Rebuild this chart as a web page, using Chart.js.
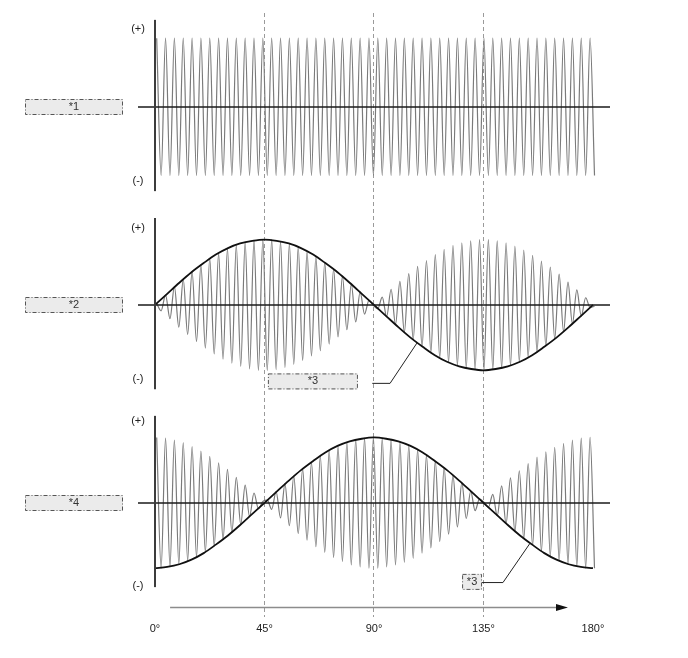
<!DOCTYPE html>
<html>
<head>
<meta charset="utf-8">
<script src="https://cdn.jsdelivr.net/npm/chart.js@4.4.1/dist/chart.umd.min.js"></script>
<style>
  body { margin: 0; background: #fff; }
  canvas { display: block; }
</style>
</head>
<body>
<canvas id="wave" width="688" height="658"></canvas>
<script>
// x axis (degrees)
const tickDegrees = [0, 45, 90, 135, 180];
const dashedDegrees = [45, 90, 135];

// carrier: one value per half cycle, starting at carrierStart, spaced carrierStep degrees
const carrierStart = 0.7;
const carrierStep = 1.8174;

const carrier1 = [
  1.05, -1.05, 1.05, -1.05, 1.05, -1.05, 1.05, -1.05, 1.05, -1.05,
  1.05, -1.05, 1.05, -1.05, 1.05, -1.05, 1.05, -1.05, 1.05, -1.05,
  1.05, -1.05, 1.05, -1.05, 1.05, -1.05, 1.05, -1.05, 1.05, -1.05,
  1.05, -1.05, 1.05, -1.05, 1.05, -1.05, 1.05, -1.05, 1.05, -1.05,
  1.05, -1.05, 1.05, -1.05, 1.05, -1.05, 1.05, -1.05, 1.05, -1.05,
  1.05, -1.05, 1.05, -1.05, 1.05, -1.05, 1.05, -1.05, 1.05, -1.05,
  1.05, -1.05, 1.05, -1.05, 1.05, -1.05, 1.05, -1.05, 1.05, -1.05,
  1.05, -1.05, 1.05, -1.05, 1.05, -1.05, 1.05, -1.05, 1.05, -1.05,
  1.05, -1.05, 1.05, -1.05, 1.05, -1.05, 1.05, -1.05, 1.05, -1.05,
  1.05, -1.05, 1.05, -1.05, 1.05, -1.05, 1.05, -1.05, 1.05, -1.05
];

const carrier2 = [
  0.02, -0.09, 0.15, -0.21, 0.28, -0.34, 0.39, -0.45, 0.51, -0.56,
  0.61, -0.66, 0.71, -0.75, 0.79, -0.83, 0.86, -0.89, 0.92, -0.94,
  0.96, -0.98, 0.99, -1.00, 1.00, -1.00, 1.00, -0.99, 0.97, -0.96,
  0.94, -0.91, 0.89, -0.85, 0.82, -0.78, 0.74, -0.70, 0.65, -0.60,
  0.55, -0.49, 0.44, -0.38, 0.32, -0.26, 0.20, -0.14, 0.07, -0.01,
  -0.06, 0.12, -0.18, 0.24, -0.30, 0.36, -0.42, 0.48, -0.53, 0.59,
  -0.64, 0.68, -0.73, 0.77, -0.81, 0.85, -0.88, 0.91, -0.93, 0.95,
  -0.97, 0.98, -0.99, 1.00, -1.00, 1.00, -0.99, 0.98, -0.97, 0.95,
  -0.93, 0.90, -0.87, 0.84, -0.80, 0.76, -0.72, 0.67, -0.63, 0.58,
  -0.52, 0.47, -0.41, 0.35, -0.29, 0.23, -0.17, 0.11, -0.04, -0.02
];

const carrier3 = [
  1.00, -1.00, 0.99, -0.98, 0.96, -0.94, 0.92, -0.89, 0.86, -0.83,
  0.79, -0.75, 0.71, -0.66, 0.61, -0.56, 0.51, -0.45, 0.39, -0.33,
  0.27, -0.21, 0.15, -0.09, 0.02, 0.04, -0.10, 0.17, -0.23, 0.29,
  -0.35, 0.41, -0.47, 0.52, -0.57, 0.62, -0.67, 0.72, -0.76, 0.80,
  -0.84, 0.87, -0.90, 0.93, -0.95, 0.97, -0.98, 0.99, -1.00, 1.00,
  -1.00, 0.99, -0.98, 0.97, -0.95, 0.93, -0.91, 0.88, -0.85, 0.81,
  -0.77, 0.73, -0.69, 0.64, -0.59, 0.54, -0.48, 0.42, -0.37, 0.31,
  -0.24, 0.18, -0.12, 0.06, 0.01, -0.07, 0.13, -0.20, 0.26, -0.32,
  0.38, -0.44, 0.49, -0.55, 0.60, -0.65, 0.70, -0.74, 0.78, -0.82,
  0.85, -0.89, 0.91, -0.94, 0.96, -0.97, 0.99, -1.00, 1.00, -1.00
];

// envelopes (thick black curves)
const envAngles = [0, 5, 10, 15, 20, 25, 30, 35, 40, 45, 50, 55, 60, 65, 70, 75, 80, 85, 90,
  95, 100, 105, 110, 115, 120, 125, 130, 135, 140, 145, 150, 155, 160, 165, 170, 175, 180];
const envelope2 = [0, 0.17, 0.34, 0.50, 0.64, 0.77, 0.87, 0.94, 0.98, 1.00, 0.98, 0.94, 0.87, 0.77, 0.64, 0.50, 0.34, 0.17, 0,
  -0.17, -0.34, -0.50, -0.64, -0.77, -0.87, -0.94, -0.98, -1.00, -0.98, -0.94, -0.87, -0.77, -0.64, -0.50, -0.34, -0.17, 0];
const envelope3 = [-1.00, -0.98, -0.94, -0.87, -0.77, -0.64, -0.50, -0.34, -0.17, 0, 0.17, 0.34, 0.50, 0.64, 0.77, 0.87, 0.94, 0.98, 1.00,
  0.98, 0.94, 0.87, 0.77, 0.64, 0.50, 0.34, 0.17, 0, -0.17, -0.34, -0.50, -0.64, -0.77, -0.87, -0.94, -0.98, -1.00];

const panelTags = ["*1", "*2", "*4"];
const calloutTag = "*3";

const FONT = '"Liberation Sans", Arial, sans-serif';

function carrierPoints(vals) {
  return vals.map((v, i) => ({ x: carrierStart + i * carrierStep, y: v }));
}
function envPoints(vals) {
  return vals.map((v, i) => ({ x: envAngles[i], y: v }));
}

// panel decorations, in axis units
const panels = [
  { axis: "y1", plus: 1.19, minus: -1.13 },
  { axis: "y2", plus: 1.18, minus: -1.14 },
  { axis: "y3", plus: 1.25, minus: -1.27 }
];

function dashBox(ctx, x, yc, w, text) {
  const h = 16;
  ctx.fillStyle = "#ebebeb";
  ctx.fillRect(x, yc - h / 2, w, h);
  ctx.setLineDash([4, 2, 1, 2]);
  ctx.strokeStyle = "#555";
  ctx.lineWidth = 1;
  ctx.strokeRect(x + 0.5, yc - h / 2 + 0.5, w - 1, h - 1);
  ctx.setLineDash([]);
  ctx.fillStyle = "#333";
  ctx.font = "11px " + FONT;
  ctx.textAlign = "center";
  ctx.textBaseline = "middle";
  ctx.fillText(text, x + w / 2, yc);
}

function polyline(ctx, pts) {
  ctx.beginPath();
  pts.forEach((p, i) => (i ? ctx.lineTo(p[0], p[1]) : ctx.moveTo(p[0], p[1])));
  ctx.stroke();
}

const decor = {
  id: "decor",
  afterDatasetsDraw(chart) {
    const { ctx, chartArea, scales } = chart;
    const xs = scales.x;
    const ax = xs.getPixelForValue(0);
    ctx.save();
    panels.forEach((p, i) => {
      const ys = scales[p.axis];
      const y0 = Math.round(ys.getPixelForValue(0));
      ctx.strokeStyle = "#1a1a1a";
      ctx.lineWidth = 1.6;
      polyline(ctx, [[chartArea.left - 2, y0], [chartArea.right, y0]]);
      ctx.strokeStyle = "#3c3c3c";
      ctx.lineWidth = 2;
      polyline(ctx, [[ax, ys.getPixelForValue(1.33)], [ax, ys.getPixelForValue(-1.29)]]);
      ctx.fillStyle = "#222";
      ctx.font = "11px " + FONT;
      ctx.textAlign = "center";
      ctx.textBaseline = "middle";
      ctx.fillText("(+)", 138, ys.getPixelForValue(p.plus));
      ctx.fillText("(-)", 138, ys.getPixelForValue(p.minus));
      dashBox(ctx, 25, y0, 98, panelTags[i]);
    });

    // callouts *3
    const y2 = scales.y2, y3 = scales.y3;
    const X = (d) => xs.getPixelForValue(d);
    dashBox(ctx, X(46.4), y2.getPixelForValue(-1.17), X(83.4) - X(46.4), calloutTag);
    ctx.strokeStyle = "#222";
    ctx.lineWidth = 1;
    polyline(ctx, [[X(89.3), y2.getPixelForValue(-1.2)], [X(96.6), y2.getPixelForValue(-1.2)], [X(107.7), y2.getPixelForValue(-0.58)]]);
    dashBox(ctx, X(126.2), y3.getPixelForValue(-1.21), X(134.4) - X(126.2), calloutTag);
    ctx.strokeStyle = "#222";
    ctx.lineWidth = 1;
    polyline(ctx, [[X(134.4), y3.getPixelForValue(-1.22)], [X(143.0), y3.getPixelForValue(-1.22)], [X(154.1), y3.getPixelForValue(-0.62)]]);

    // direction arrow
    const ay = Math.round(y3.getPixelForValue(-1.6)) + 0.5;
    ctx.strokeStyle = "#8c8c8c";
    ctx.lineWidth = 1.5;
    polyline(ctx, [[X(6.2), ay], [X(165), ay]]);
    ctx.fillStyle = "#111";
    ctx.beginPath();
    ctx.moveTo(X(164.8), ay - 3.5);
    ctx.lineTo(X(169.7), ay);
    ctx.lineTo(X(164.8), ay + 3.5);
    ctx.closePath();
    ctx.fill();
    ctx.restore();
  }
};

const lineStyle = { pointRadius: 0, fill: false, cubicInterpolationMode: "monotone" };

new Chart(document.getElementById("wave"), {
  type: "line",
  data: {
    datasets: [
      { ...lineStyle, data: envPoints(envelope2), yAxisID: "y2", borderColor: "#111", borderWidth: 1.8 },
      { ...lineStyle, data: envPoints(envelope3), yAxisID: "y3", borderColor: "#111", borderWidth: 1.8 },
      { ...lineStyle, data: carrierPoints(carrier1), yAxisID: "y1", borderColor: "#7a7a7a", borderWidth: 1.2 },
      { ...lineStyle, data: carrierPoints(carrier2), yAxisID: "y2", borderColor: "#7a7a7a", borderWidth: 1.2 },
      { ...lineStyle, data: carrierPoints(carrier3), yAxisID: "y3", borderColor: "#7a7a7a", borderWidth: 1.2 }
    ]
  },
  options: {
    responsive: false,
    animation: false,
    devicePixelRatio: 1,
    layout: { padding: { left: 140, right: 78, top: 13, bottom: 16 } },
    plugins: { legend: { display: false }, tooltip: { enabled: false } },
    scales: {
      x: {
        type: "linear",
        min: -6.164,
        max: 186.99,
        afterBuildTicks: (axis) => {
          axis.ticks = tickDegrees.map((v) => ({ value: v }));
        },
        grid: {
          drawTicks: false,
          lineWidth: 1,
          color: (c) => (c.tick && dashedDegrees.includes(c.tick.value) ? "#9a9a9a" : "rgba(0,0,0,0)")
        },
        border: { display: false, dash: [4, 3] },
        ticks: {
          autoSkip: false,
          maxRotation: 0,
          padding: 6,
          color: "#222",
          font: { size: 11, family: FONT },
          callback: (v) => v + "°"
        }
      },
      y1: { type: "linear", display: false, min: -7.802, max: 1.435 },
      y2: { type: "linear", display: false, min: -4.771, max: 4.466 },
      y3: { type: "linear", display: false, min: -1.744, max: 7.493 }
    }
  },
  plugins: [decor]
});
</script>
</body>
</html>
